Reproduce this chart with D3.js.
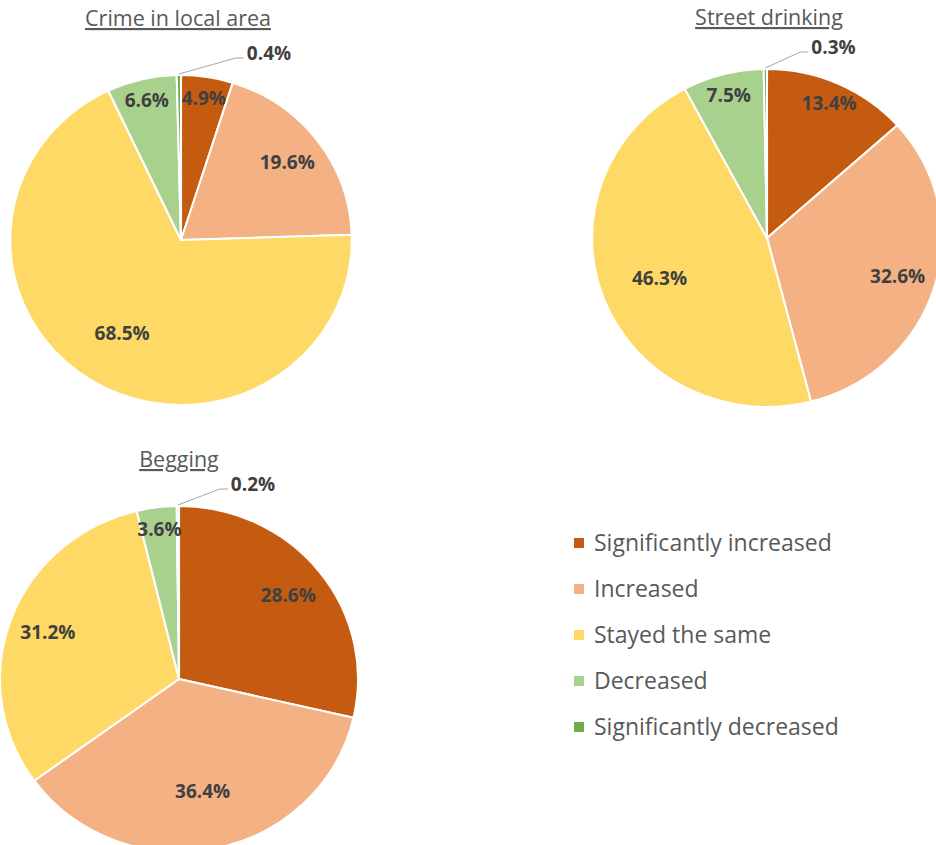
<!DOCTYPE html>
<html>
<head>
<meta charset="utf-8">
<script src="https://cdn.jsdelivr.net/npm/d3@7"></script>
<style>
  html, body { margin: 0; padding: 0; background: #fff; }
  svg { display: block; }
</style>
</head>
<body>
<svg id="chart" width="936" height="845"></svg>
<script>
// Response categories (legend order = slice order, clockwise from 12 o'clock)
const categories = [
  "Significantly increased",
  "Increased",
  "Stayed the same",
  "Decreased",
  "Significantly decreased"
];
const colors = ["#C55A11", "#F4B183", "#FFD966", "#A9D18E", "#70AD47"];

// Percentages per topic
const titles = ["Crime in local area", "Street drinking", "Begging"];
const crimeValues = [4.9, 19.6, 68.5, 6.6, 0.4];
const drinkingValues = [13.4, 32.6, 46.3, 7.5, 0.3];
const beggingValues = [28.6, 36.4, 31.2, 3.6, 0.2];

// Layout of each pie panel
const charts = [
  { title: titles[0], values: crimeValues, cx: 181, cy: 240, r: 165, titleX: 178, titleY: 26, leadDx: 57 },
  { title: titles[1], values: drinkingValues, cx: 767, cy: 238, r: 169, titleX: 769, titleY: 25, leadDx: 35 },
  { title: titles[2], values: beggingValues, cx: 179, cy: 679, r: 173, titleX: 179, titleY: 467, leadDx: 42 }
];

const svg = d3.select("#chart");
const font = "'Open Sans', 'DejaVu Sans', sans-serif";
const sx = 1.035; // pies are drawn slightly wider than tall
const color = d3.scaleOrdinal().domain(categories).range(colors);

const pie = d3.pie().sort(null).value(d => d.value);

// radial position of an inside label, as a fraction of the radius
function labelRadius(share) {
  if (share < 0.15) return 0.87;
  if (share < 0.34) return 0.78;
  return 0.66;
}

charts.forEach(c => {
  const data = categories.map((k, i) => ({ key: k, value: c.values[i] }));
  const arcs = pie(data);
  const arc = d3.arc().innerRadius(0).outerRadius(c.r);

  // Title (underlined)
  svg.append("text")
    .attr("x", c.titleX)
    .attr("y", c.titleY)
    .attr("text-anchor", "middle")
    .attr("font-family", font)
    .attr("font-size", 21.5)
    .attr("fill", "#595959")
    .attr("text-decoration", "underline")
    .text(c.title);

  const g = svg.append("g")
    .attr("transform", `translate(${c.cx},${c.cy}) scale(${sx},1)`);

  g.selectAll("path")
    .data(arcs)
    .join("path")
    .attr("d", arc)
    .attr("fill", d => color(d.data.key))
    .attr("stroke", "#fff")
    .attr("stroke-width", 2)
    .attr("stroke-linejoin", "round");

  // Data labels
  arcs.forEach(a => {
    const share = a.data.value / 100;
    const mid = (a.startAngle + a.endAngle) / 2;
    const label = a.data.value.toFixed(1) + "%";
    if (share < 0.01) {
      // thin slice: label outside with a leader line
      const px = c.cx + Math.sin(mid) * c.r * sx;
      const py = c.cy - Math.cos(mid) * (c.r + 1);
      const ex = px + c.leadDx, ey = py - 16;
      svg.append("polyline")
        .attr("points", `${px},${py} ${ex},${ey} ${ex + 8},${ey}`)
        .attr("fill", "none")
        .attr("stroke", "#A6A6A6")
        .attr("stroke-width", 1);
      svg.append("text")
        .attr("x", ex + 11)
        .attr("y", ey - 5)
        .attr("dy", "0.35em")
        .attr("font-family", font)
        .attr("font-weight", 700)
        .attr("font-size", 19)
        .attr("fill", "#404040")
        .text(label);
    } else {
      const k = labelRadius(share);
      const lx = c.cx + Math.sin(mid) * c.r * k * sx;
      const ly = c.cy - Math.cos(mid) * c.r * k;
      svg.append("text")
        .attr("x", lx)
        .attr("y", ly)
        .attr("dy", "0.35em")
        .attr("text-anchor", "middle")
        .attr("font-family", font)
        .attr("font-weight", 700)
        .attr("font-size", 19)
        .attr("fill", "#404040")
        .text(label);
    }
  });
});

// Legend
const legend = svg.append("g").attr("transform", "translate(574,543)");
const rowH = 46;
const rows = legend.selectAll("g")
  .data(categories)
  .join("g")
  .attr("transform", (d, i) => `translate(0,${i * rowH})`);
rows.append("rect")
  .attr("x", 0).attr("y", -5)
  .attr("width", 10).attr("height", 10)
  .attr("fill", d => color(d));
rows.append("text")
  .attr("x", 20)
  .attr("y", 0)
  .attr("dy", "0.35em")
  .attr("font-family", font)
  .attr("font-size", 23)
  .attr("fill", "#595959")
  .text(d => d);
</script>
</body>
</html>
